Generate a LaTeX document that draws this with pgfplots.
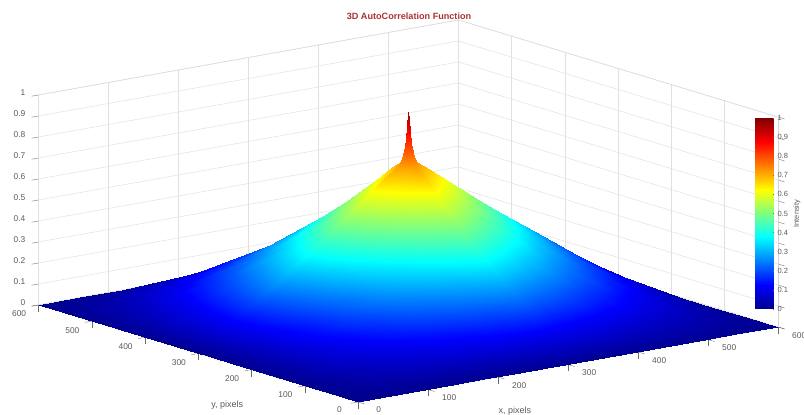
\documentclass[border=0pt]{standalone}
\usepackage{fontspec}
\setmainfont{Liberation Sans}
\usepackage{pgfplots}
\pgfplotsset{compat=1.18}
\definecolor{tk}{HTML}{6A6A6A}
\definecolor{gr}{HTML}{E0E0E0}
\pgfplotsset{colormap={mjet}{rgb(0pt)=(0,0,0.56) rgb(125pt)=(0,0,1) rgb(375pt)=(0,1,1) rgb(625pt)=(1,1,0) rgb(875pt)=(1,0,0) rgb(1000pt)=(0.5,0,0)}}
\begin{document}
\begin{tikzpicture}
\useasboundingbox (0,0) rectangle (804pt,415pt);
\begin{axis}[
  at={(358pt,13pt)},anchor=origin,
  x={(0.7pt,0.125pt)},y={(-0.5325pt,0.1617pt)},z={(0pt,210pt)},
  xmin=0,xmax=600,ymin=0,ymax=600,zmin=0,zmax=1,
  colormap name=mjet,point meta min=0,point meta max=1,
  xtick={0,100,...,600},ytick={0,100,...,600},ztick={0,0.1,...,1},
  xticklabels={0,100,200,300,400,500,{600\hspace{7pt}}},
  zticklabels={0,0.1,0.2,0.3,0.4,0.5,0.6,0.7,0.8,0.9,1},
  /pgf/number format/assume math mode=true,
  grid=major,major grid style={gr,line width=0.5pt},
  axis line style={black!17,line width=0.5pt},
  xtick pos=left,ytick pos=left,ztick pos=left,
  tick style={tk,line width=0.35pt},tick align=outside,major tick length=7pt,
  ticklabel style={font=\fontsize{8.4}{9}\selectfont,text=tk!85!black},
  xticklabel style={xshift=9pt,yshift=1pt},
  yticklabel style={xshift=-6pt},
  zticklabel style={xshift=-3pt},
  title={\textbf{3D AutoCorrelation Function}},
  title style={at={(axis cs:600,600,1)},anchor=center,xshift=-49.5pt,yshift=-2pt,font=\fontsize{9.1}{10}\selectfont,text={rgb,255:red,170;green,50;blue,50}},
  xlabel={x, pixels},ylabel={y, pixels},
  x label style={at={(axis cs:300,0,0)},anchor=center,xshift=-53pt,yshift=-46.5pt,font=\fontsize{9}{10}\selectfont,text=tk!85!black},
  y label style={at={(axis cs:0,300,0)},anchor=center,rotate=0,xshift=29pt,yshift=-51.5pt,font=\fontsize{9}{10}\selectfont,text=tk!85!black},
]
\addplot3[surf,shader=interp,mesh/rows=21,mesh/cols=21,point meta=z] coordinates {
(0,0,0)(60,0,0)(120,0,0)(180,0,0)(240,0,0)(270,0,0)(288,0,0)(294,0,0)(297,0,0)(299,0,0)(300,0,0)(301,0,0)(303,0,0)(306,0,0)(312,0,0)(330,0,0)(360,0,0)(420,0,0)(480,0,0)(540,0,0)(600,0,0)
(0,60,0)(60,60,.030)(120,60,.059)(180,60,.089)(240,60,.118)(270,60,.133)(288,60,.141)(294,60,.144)(297,60,.146)(299,60,.147)(300,60,.148)(301,60,.147)(303,60,.146)(306,60,.144)(312,60,.141)(330,60,.133)(360,60,.118)(420,60,.089)(480,60,.059)(540,60,.030)(600,60,0)
(0,120,0)(60,120,.059)(120,120,.118)(180,120,.178)(240,120,.237)(270,120,.266)(288,120,.281)(294,120,.288)(297,120,.292)(299,120,.294)(300,120,.296)(301,120,.294)(303,120,.292)(306,120,.288)(312,120,.281)(330,120,.266)(360,120,.237)(420,120,.178)(480,120,.118)(540,120,.059)(600,120,0)
(0,180,0)(60,180,.089)(120,180,.178)(180,180,.266)(240,180,.355)(270,180,.400)(288,180,.422)(294,180,.432)(297,180,.438)(299,180,.441)(300,180,.444)(301,180,.441)(303,180,.438)(306,180,.432)(312,180,.422)(330,180,.400)(360,180,.355)(420,180,.266)(480,180,.178)(540,180,.089)(600,180,0)
(0,240,0)(60,240,.118)(120,240,.237)(180,240,.355)(240,240,.478)(270,240,.541)(288,240,.571)(294,240,.586)(297,240,.594)(299,240,.598)(300,240,.602)(301,240,.598)(303,240,.594)(306,240,.586)(312,240,.571)(330,240,.541)(360,240,.478)(420,240,.355)(480,240,.237)(540,240,.118)(600,240,0)
(0,270,0)(60,270,.133)(120,270,.266)(180,270,.400)(240,270,.541)(270,270,.613)(288,270,.649)(294,270,.665)(297,270,.675)(299,270,.680)(300,270,.684)(301,270,.680)(303,270,.675)(306,270,.665)(312,270,.649)(330,270,.613)(360,270,.541)(420,270,.400)(480,270,.266)(540,270,.133)(600,270,0)
(0,288,0)(60,288,.141)(120,288,.281)(180,288,.422)(240,288,.571)(270,288,.649)(288,288,.688)(294,288,.706)(297,288,.718)(299,288,.723)(300,288,.728)(301,288,.723)(303,288,.718)(306,288,.706)(312,288,.688)(330,288,.649)(360,288,.571)(420,288,.422)(480,288,.281)(540,288,.141)(600,288,0)
(0,294,0)(60,294,.144)(120,294,.288)(180,294,.432)(240,294,.586)(270,294,.665)(288,294,.706)(294,294,.733)(297,294,.755)(299,294,.763)(300,294,.770)(301,294,.763)(303,294,.755)(306,294,.733)(312,294,.706)(330,294,.665)(360,294,.586)(420,294,.432)(480,294,.288)(540,294,.144)(600,294,0)
(0,297,0)(60,297,.146)(120,297,.292)(180,297,.438)(240,297,.594)(270,297,.675)(288,297,.718)(294,297,.755)(297,297,.790)(299,297,.825)(300,297,.850)(301,297,.825)(303,297,.790)(306,297,.755)(312,297,.718)(330,297,.675)(360,297,.594)(420,297,.438)(480,297,.292)(540,297,.146)(600,297,0)
(0,299,0)(60,299,.147)(120,299,.294)(180,299,.441)(240,299,.598)(270,299,.680)(288,299,.723)(294,299,.763)(297,299,.825)(299,299,.900)(300,299,.935)(301,299,.900)(303,299,.825)(306,299,.763)(312,299,.723)(330,299,.680)(360,299,.598)(420,299,.441)(480,299,.294)(540,299,.147)(600,299,0)
(0,300,0)(60,300,.148)(120,300,.296)(180,300,.444)(240,300,.602)(270,300,.684)(288,300,.728)(294,300,.770)(297,300,.850)(299,300,.935)(300,300,.970)(301,300,.935)(303,300,.850)(306,300,.770)(312,300,.728)(330,300,.684)(360,300,.602)(420,300,.444)(480,300,.296)(540,300,.148)(600,300,0)
(0,301,0)(60,301,.147)(120,301,.294)(180,301,.441)(240,301,.598)(270,301,.680)(288,301,.723)(294,301,.763)(297,301,.825)(299,301,.900)(300,301,.935)(301,301,.900)(303,301,.825)(306,301,.763)(312,301,.723)(330,301,.680)(360,301,.598)(420,301,.441)(480,301,.294)(540,301,.147)(600,301,0)
(0,303,0)(60,303,.146)(120,303,.292)(180,303,.438)(240,303,.594)(270,303,.675)(288,303,.718)(294,303,.755)(297,303,.790)(299,303,.825)(300,303,.850)(301,303,.825)(303,303,.790)(306,303,.755)(312,303,.718)(330,303,.675)(360,303,.594)(420,303,.438)(480,303,.292)(540,303,.146)(600,303,0)
(0,306,0)(60,306,.144)(120,306,.288)(180,306,.432)(240,306,.586)(270,306,.665)(288,306,.706)(294,306,.733)(297,306,.755)(299,306,.763)(300,306,.770)(301,306,.763)(303,306,.755)(306,306,.733)(312,306,.706)(330,306,.665)(360,306,.586)(420,306,.432)(480,306,.288)(540,306,.144)(600,306,0)
(0,312,0)(60,312,.141)(120,312,.281)(180,312,.422)(240,312,.571)(270,312,.649)(288,312,.688)(294,312,.706)(297,312,.718)(299,312,.723)(300,312,.728)(301,312,.723)(303,312,.718)(306,312,.706)(312,312,.688)(330,312,.649)(360,312,.571)(420,312,.422)(480,312,.281)(540,312,.141)(600,312,0)
(0,330,0)(60,330,.133)(120,330,.266)(180,330,.400)(240,330,.541)(270,330,.613)(288,330,.649)(294,330,.665)(297,330,.675)(299,330,.680)(300,330,.684)(301,330,.680)(303,330,.675)(306,330,.665)(312,330,.649)(330,330,.613)(360,330,.541)(420,330,.400)(480,330,.266)(540,330,.133)(600,330,0)
(0,360,0)(60,360,.118)(120,360,.237)(180,360,.355)(240,360,.478)(270,360,.541)(288,360,.571)(294,360,.586)(297,360,.594)(299,360,.598)(300,360,.602)(301,360,.598)(303,360,.594)(306,360,.586)(312,360,.571)(330,360,.541)(360,360,.478)(420,360,.355)(480,360,.237)(540,360,.118)(600,360,0)
(0,420,0)(60,420,.089)(120,420,.178)(180,420,.266)(240,420,.355)(270,420,.400)(288,420,.422)(294,420,.432)(297,420,.438)(299,420,.441)(300,420,.444)(301,420,.441)(303,420,.438)(306,420,.432)(312,420,.422)(330,420,.400)(360,420,.355)(420,420,.266)(480,420,.178)(540,420,.089)(600,420,0)
(0,480,0)(60,480,.059)(120,480,.118)(180,480,.178)(240,480,.237)(270,480,.266)(288,480,.281)(294,480,.288)(297,480,.292)(299,480,.294)(300,480,.296)(301,480,.294)(303,480,.292)(306,480,.288)(312,480,.281)(330,480,.266)(360,480,.237)(420,480,.178)(480,480,.118)(540,480,.059)(600,480,0)
(0,540,0)(60,540,.030)(120,540,.059)(180,540,.089)(240,540,.118)(270,540,.133)(288,540,.141)(294,540,.144)(297,540,.146)(299,540,.147)(300,540,.148)(301,540,.147)(303,540,.146)(306,540,.144)(312,540,.141)(330,540,.133)(360,540,.118)(420,540,.089)(480,540,.059)(540,540,.030)(600,540,0)
(0,600,0)(60,600,0)(120,600,0)(180,600,0)(240,600,0)(270,600,0)(288,600,0)(294,600,0)(297,600,0)(299,600,0)(300,600,0)(301,600,0)(303,600,0)(306,600,0)(312,600,0)(330,600,0)(360,600,0)(420,600,0)(480,600,0)(540,600,0)(600,600,0)
};
\end{axis}
\begin{axis}[
  at={(755pt,106pt)},anchor=south west,scale only axis,width=19pt,height=191pt,
  view={0}{90},xmin=0,xmax=1,ymin=0,ymax=1,
  colormap name=mjet,point meta min=0,point meta max=1,
  xtick=\empty,ytick={0,0.1,...,1},yticklabels={0,0.1,0.2,0.3,0.4,0.5,0.6,0.7,0.8,0.9,1},
  /pgf/number format/assume math mode=true,
  axis line style={draw=none},
  ytick pos=right,yticklabel pos=right,
  tick style={tk,line width=0.35pt},tick align=inside,major tick length=1.5pt,
  yticklabel style={font=\fontsize{7.5}{8}\selectfont,text=tk!85!black},
  ylabel={Intensity},y label style={font=\fontsize{7.4}{8}\selectfont,text=tk!85!black,at={(axis cs:1,0.5)},anchor=center,yshift=-23pt},
]
\addplot3[surf,shader=interp,mesh/rows=9,mesh/cols=2,point meta=z] coordinates {
(0,0,0)(1,0,0)
(0,0.125,0.125)(1,0.125,0.125)
(0,0.25,0.25)(1,0.25,0.25)
(0,0.375,0.375)(1,0.375,0.375)
(0,0.5,0.5)(1,0.5,0.5)
(0,0.625,0.625)(1,0.625,0.625)
(0,0.75,0.75)(1,0.75,0.75)
(0,0.875,0.875)(1,0.875,0.875)
(0,1,1)(1,1,1)
};
\end{axis}
\end{tikzpicture}
\end{document}
